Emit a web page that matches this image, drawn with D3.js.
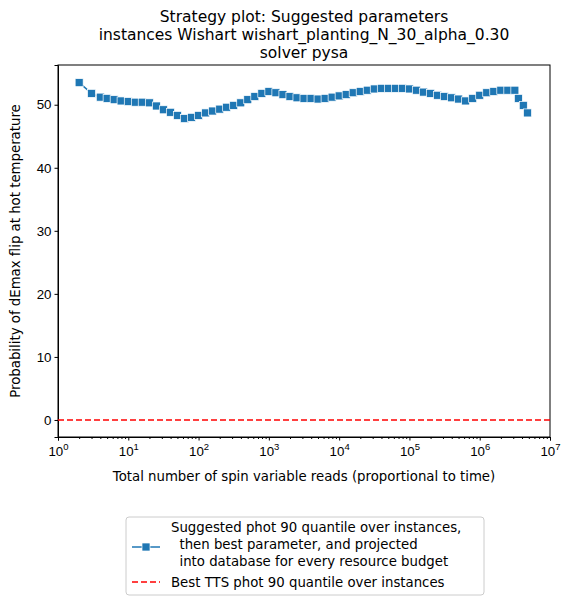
<!DOCTYPE html>
<html><head><meta charset="utf-8">
<script src="https://cdn.jsdelivr.net/npm/d3@7"></script>
<style>body{margin:0;background:#fff;font-family:"DejaVu Sans",sans-serif;}</style>
</head><body><div id="chart"></div>
<script>
// reads (budget) and the suggested parameter at each
var reads = [2, 3, 4, 5, 6.3, 7.9, 10, 12.6, 15.8, 20, 25.1, 31.6, 39.8, 50.1, 63.1, 79.4,
  100, 126, 158, 200, 251, 316, 398, 501, 631, 794, 1000, 1259, 1585, 1995, 2512, 3162, 3981, 5012, 6310, 7943,
  1e4, 12589, 15849, 19953, 25119, 31623, 39811, 50119, 63096, 79433,
  1e5, 125893, 158489, 199526, 251189, 316228, 398107, 501187, 630957, 794328,
  1e6, 1258925, 1584893, 1995262, 2511886, 3162278, 3548134, 4168694, 4786301];
var pflip = [53.5, 51.8, 51.2, 51.0, 50.8, 50.6, 50.5, 50.4, 50.4, 50.3, 49.8, 49.2, 48.8, 48.3, 47.8, 48.0,
  48.3, 48.7, 49.0, 49.3, 49.6, 49.9, 50.3, 50.8, 51.3, 51.8, 52.1, 51.9, 51.6, 51.3, 51.1, 51.0, 51.0, 50.9, 51.0, 51.2,
  51.4, 51.6, 51.9, 52.1, 52.3, 52.5, 52.6, 52.6, 52.6, 52.6,
  52.5, 52.3, 52.0, 51.8, 51.5, 51.3, 51.1, 50.9, 50.6, 51.0,
  51.5, 51.9, 52.1, 52.3, 52.3, 52.3, 51.0, 49.9, 48.7];
var bestTTS = 0;
var xTicks = [1, 10, 100, 1000, 1e4, 1e5, 1e6, 1e7];
var yTicks = [0, 10, 20, 30, 40, 50];
var titleLines = ["Strategy plot: Suggested parameters", "instances Wishart wishart_planting_N_30_alpha_0.30", "solver pysa"];
var legendLines = ["Suggested phot 90 quantile over instances,", "  then best parameter, and projected", "  into database for every resource budget"];
var legend2 = "Best TTS phot 90 quantile over instances";
var blue = "#1f77b4";
var fs = 13.3;

var W = 575, H = 605, m = {left: 58, right: 25, top: 65, bottom: 168};
var w = W - m.left - m.right, h = H - m.top - m.bottom;
var svg = d3.select("#chart").append("svg").attr("width", W).attr("height", H);
var g = svg.append("g").attr("transform", `translate(${m.left},${m.top})`);

var x = d3.scaleLog().domain([1, 1e7]).range([0, w]);
var y = d3.scaleLinear().domain([-2.7, 56.3]).range([h, 0]);

var xAxis = g.append("g").attr("transform", `translate(0,${h})`)
  .call(d3.axisBottom(x).tickValues(xTicks).tickSize(3.5).tickFormat(""));
xAxis.selectAll(".tick").append("text").attr("y", 19).attr("fill", "#000")
  .attr("text-anchor", "middle").attr("font-size", fs)
  .each(function(d) {
    var t = d3.select(this);
    t.append("tspan").text("10");
    t.append("tspan").attr("dy", -6).attr("font-size", 9.5).text(Math.round(Math.log10(d)));
  });
// minor ticks
var minors = [];
for (var e = 0; e < 7; e++) for (var k = 2; k < 10; k++) minors.push(k * Math.pow(10, e));
g.append("g").attr("transform", `translate(0,${h})`)
  .call(d3.axisBottom(x).tickValues(minors).tickSize(2).tickFormat(""))
  .select(".domain").remove();

g.append("g").call(d3.axisLeft(y).tickValues(yTicks).tickSize(3.5))
  .selectAll("text").attr("font-size", fs).attr("fill", "#000");
g.selectAll(".domain").attr("stroke", "#000");
g.selectAll(".tick line").attr("stroke", "#000");
g.append("rect").attr("width", w).attr("height", h).attr("fill", "none").attr("stroke", "#000");

g.append("line").attr("x1", 0).attr("x2", w).attr("y1", y(bestTTS)).attr("y2", y(bestTTS))
  .attr("stroke", "red").attr("stroke-width", 1.5).attr("stroke-dasharray", "6,3");

var pts = reads.map((r, i) => [r, pflip[i]]);
g.append("path").datum(pts).attr("fill", "none").attr("stroke", blue).attr("stroke-width", 1.5)
  .attr("d", d3.line().x(d => x(d[0])).y(d => y(d[1])));
g.selectAll(".pt").data(pts).enter().append("rect")
  .attr("x", d => x(d[0]) - 4).attr("y", d => y(d[1]) - 4)
  .attr("width", 8).attr("height", 8).attr("fill", blue).attr("stroke", "#fff").attr("stroke-width", 0.7);

svg.append("g").selectAll("text").data(titleLines).enter().append("text")
  .attr("x", m.left + w / 2).attr("y", (d, i) => 22 + i * 18).attr("text-anchor", "middle")
  .attr("font-size", 15.5).text(d => d);

svg.append("text").attr("x", m.left + w / 2).attr("y", 481).attr("text-anchor", "middle")
  .attr("font-size", fs).text("Total number of spin variable reads (proportional to time)");
svg.append("text").attr("transform", `translate(20,${m.top + h / 2}) rotate(-90)`)
  .attr("text-anchor", "middle").attr("font-size", fs).text("Probability of dEmax flip at hot temperature");

var lg = svg.append("g").attr("transform", "translate(126,517)");
lg.append("rect").attr("width", 358).attr("height", 78).attr("rx", 3).attr("fill", "#fff").attr("stroke", "#ccc");
lg.append("line").attr("x1", 6).attr("x2", 34).attr("y1", 30).attr("y2", 30).attr("stroke", blue).attr("stroke-width", 1.5);
lg.append("rect").attr("x", 16).attr("y", 26).attr("width", 8).attr("height", 8).attr("fill", blue).attr("stroke", "#fff").attr("stroke-width", 0.7);
lg.selectAll(".lt").data(legendLines).enter().append("text")
  .attr("x", 45).attr("y", (d, i) => 15 + i * 17).attr("font-size", fs).attr("xml:space", "preserve").text(d => d);
lg.append("line").attr("x1", 6).attr("x2", 34).attr("y1", 65).attr("y2", 65).attr("stroke", "red").attr("stroke-width", 1.5).attr("stroke-dasharray", "6,3");
lg.append("text").attr("x", 45).attr("y", 70).attr("font-size", fs).text(legend2);
</script></body></html>
